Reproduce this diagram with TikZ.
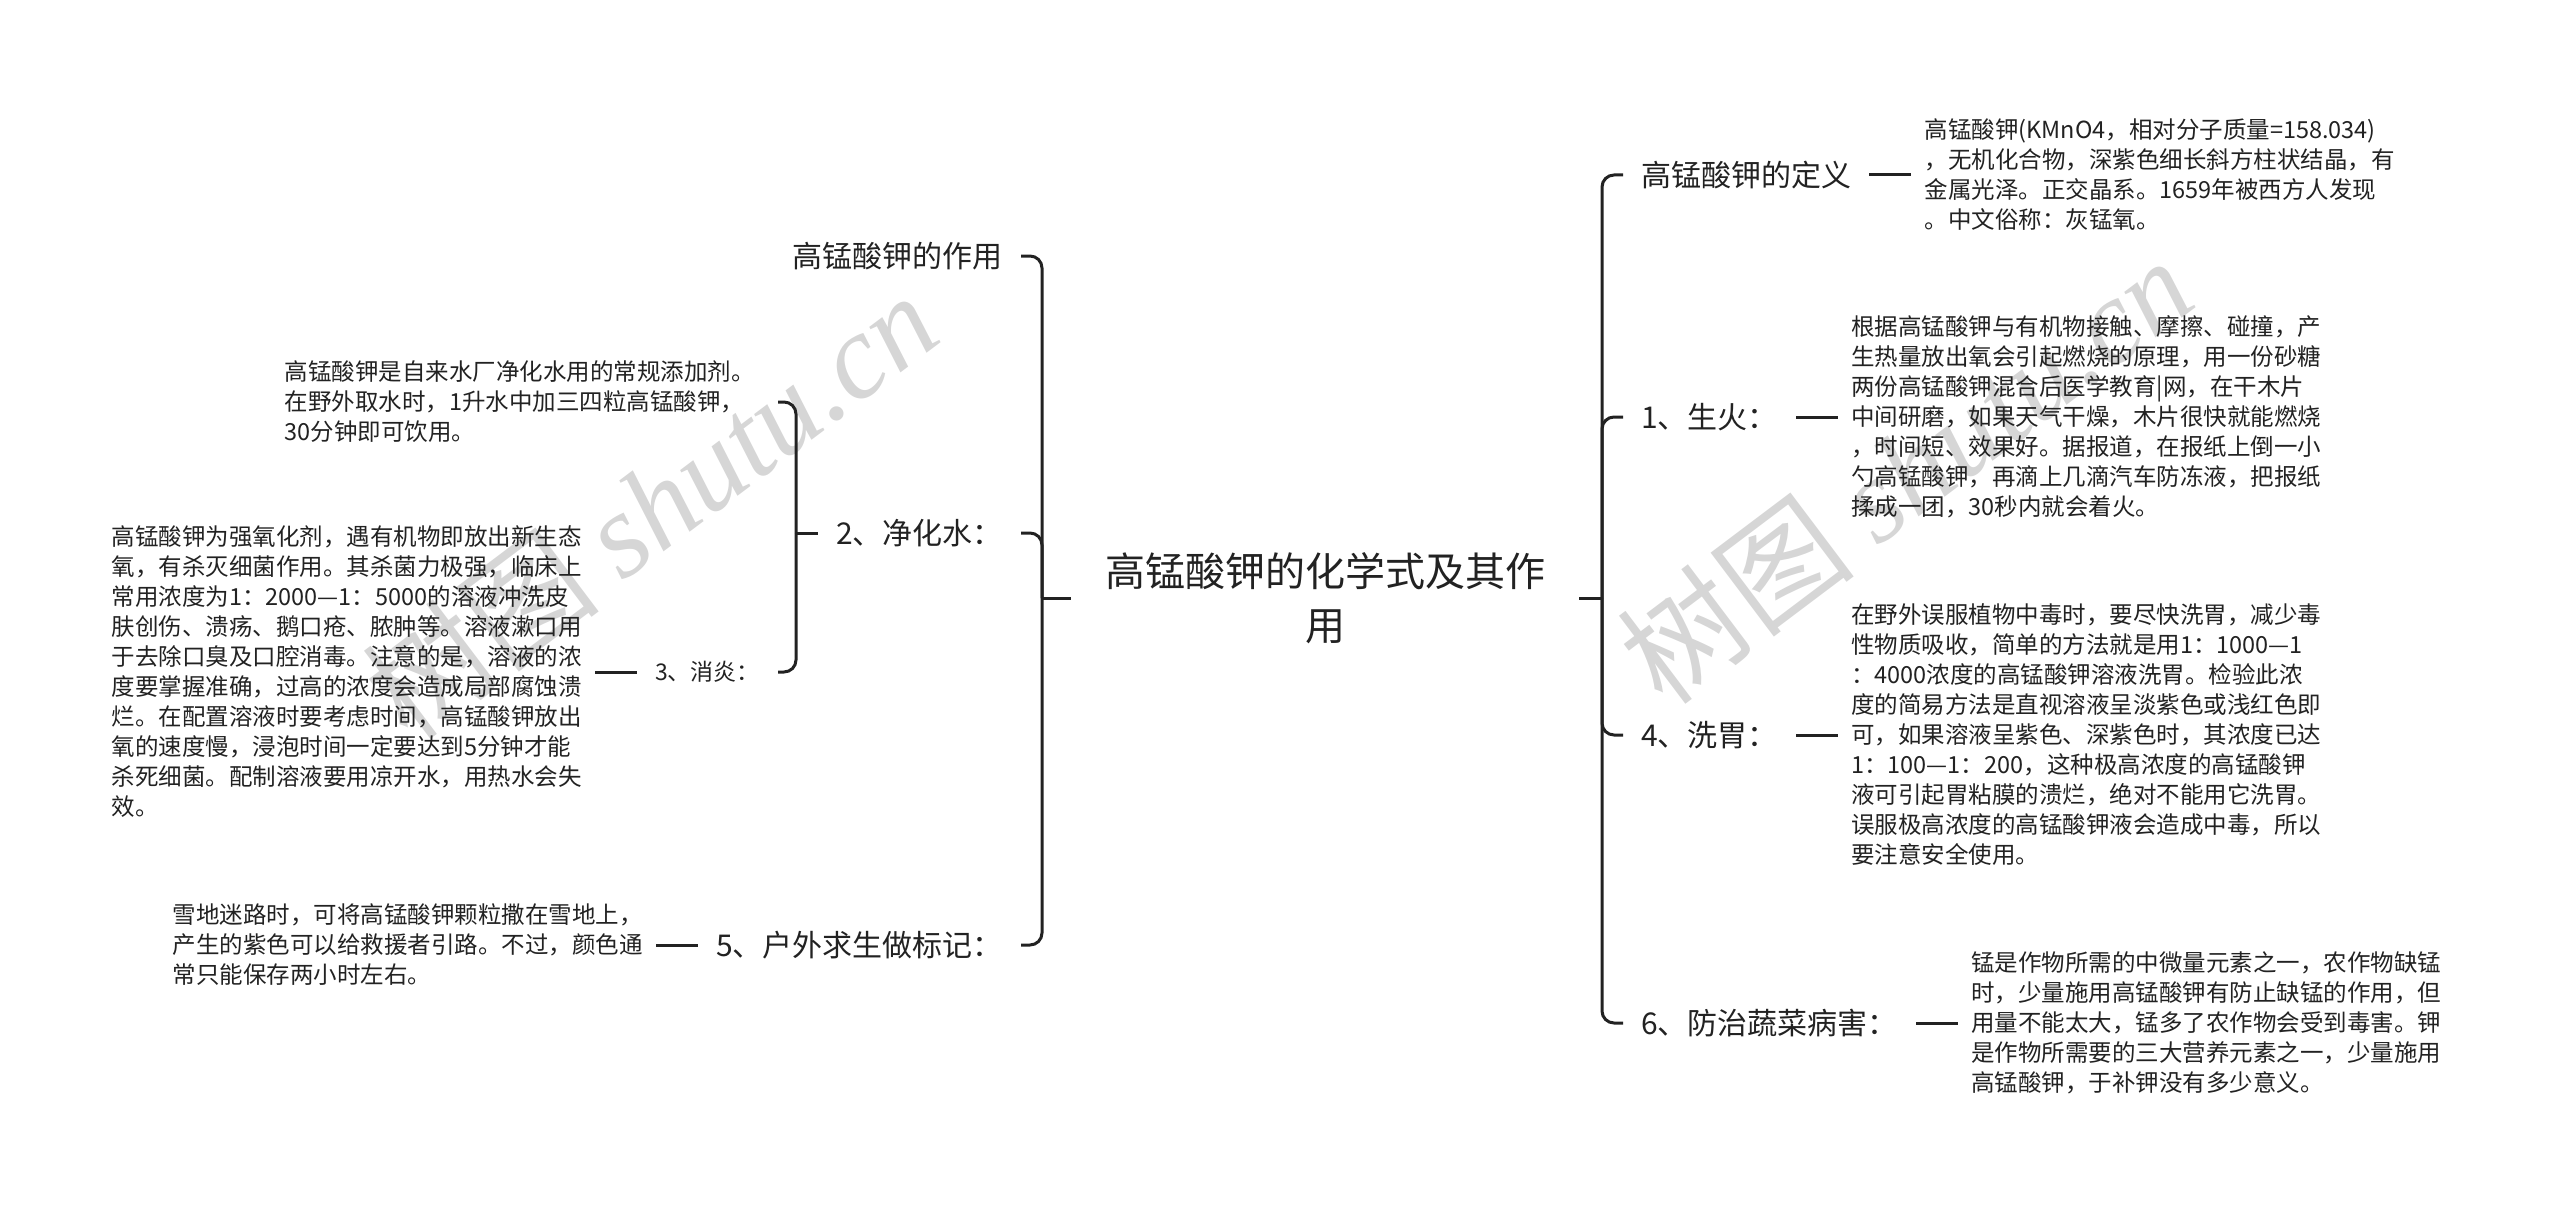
\documentclass[tikz,border=0pt]{standalone}
\usepackage{fontspec}
\setmainfont{Noto Sans CJK SC}
\newfontfamily\markfont{Liberation Serif}
\usetikzlibrary{positioning}
\definecolor{inkc}{HTML}{222222}
\definecolor{linec}{HTML}{222222}
\definecolor{markc}{HTML}{D6D6D6}
\tikzset{
  km link/.style={draw=linec, line width=3pt, rounded corners=12pt},
  km root/.style={align=center, text=inkc, inner xsep=34pt, inner ysep=4pt,
    font=\fontsize{40}{54}\selectfont},
  km main/.style={text=inkc, inner xsep=18pt, inner ysep=3pt,
    font=\fontsize{30}{36}\selectfont},
  km sub/.style={text=inkc, inner xsep=18pt, inner ysep=3pt,
    font=\fontsize{23}{28}\selectfont},
  km leaf/.style={text=inkc, align=left, inner xsep=13pt, inner ysep=3pt,
    font=\fontsize{23.5}{30}\selectfont},
  km mark/.style={text=markc, rotate=37, inner sep=0pt,
    font=\fontsize{120}{120}\selectfont},
}

\begin{document}
\begin{tikzpicture}[x=1pt, y=1pt, node distance=42pt]
 \useasboundingbox (0,0) rectangle (2560,-1212);
 % watermarks under everything
 \node[km mark] (wmleft) at (650,-505) {树图 {\markfont\itshape shutu.cn}};
 \node[km mark] (wmright) at (1905,-470) {树图 {\markfont\itshape shutu.cn}};

 \node[km root] (root) at (1325,-598) {高锰酸钾的化学式及其作\\用};
 \coordinate (lt) at (1042,-598);
 \coordinate (rt) at (1602,-598);

 % left side
 \node[km main, anchor=east] (use) at (1021,-256) {高锰酸钾的作用};
 \node[km main, anchor=east] (purify) at (1021,-533) {2、净化水：};
 \node[km main, anchor=east] (sos) at (1021,-945) {5、户外求生做标记：};
 \coordinate (pt) at (796,-533);
 \node[km leaf, anchor=east, inner xsep=23pt] (purifyA) at (778,-402)
   {高锰酸钾是自来水厂净化水用的常规添加剂。\\
    在野外取水时，1升水中加三四粒高锰酸钾，\\
    30分钟即可饮用。};
 \node[km sub, anchor=east] (heal) at (778,-672) {3、消炎：};
 \node[km leaf, left=of heal] (healA)
   {高锰酸钾为强氧化剂，遇有机物即放出新生态\\
    氧，有杀灭细菌作用。其杀菌力极强，临床上\\
    常用浓度为1：2000—1：5000的溶液冲洗皮\\
    肤创伤、溃疡、鹅口疮、脓肿等。溶液漱口用\\
    于去除口臭及口腔消毒。注意的是，溶液的浓\\
    度要掌握准确，过高的浓度会造成局部腐蚀溃\\
    烂。在配置溶液时要考虑时间，高锰酸钾放出\\
    氧的速度慢，浸泡时间一定要达到5分钟才能\\
    杀死细菌。配制溶液要用凉开水，用热水会失\\
    效。};
 \node[km leaf, left=of sos] (sosA)
   {雪地迷路时，可将高锰酸钾颗粒撒在雪地上，\\
    产生的紫色可以给救援者引路。不过，颜色通\\
    常只能保存两小时左右。};

 % right side
 \node[km main, anchor=west] (def) at (1623,-175) {高锰酸钾的定义};
 \node[km main, anchor=west] (fire) at (1623,-417) {1、生火：};
 \node[km main, anchor=west] (wash) at (1623,-735) {4、洗胃：};
 \node[km main, anchor=west] (crop) at (1623,-1023) {6、防治蔬菜病害：};
 \node[km leaf, right=of def] (defA)
   {高锰酸钾(KMnO4，相对分子质量=158.034)\\
    ，无机化合物，深紫色细长斜方柱状结晶，有\\
    金属光泽。正交晶系。1659年被西方人发现\\
    。中文俗称：灰锰氧。};
 \node[km leaf, right=of fire] (fireA)
   {根据高锰酸钾与有机物接触、摩擦、碰撞，产\\
    生热量放出氧会引起燃烧的原理，用一份砂糖\\
    两份高锰酸钾混合后医学教育|网，在干木片\\
    中间研磨，如果天气干燥，木片很快就能燃烧\\
    ，时间短、效果好。据报道，在报纸上倒一小\\
    勺高锰酸钾，再滴上几滴汽车防冻液，把报纸\\
    揉成一团，30秒内就会着火。};
 \node[km leaf, right=of wash] (washA)
   {在野外误服植物中毒时，要尽快洗胃，减少毒\\
    性物质吸收，简单的方法就是用1：1000—1\\
    ：4000浓度的高锰酸钾溶液洗胃。检验此浓\\
    度的简易方法是直视溶液呈淡紫色或浅红色即\\
    可，如果溶液呈紫色、深紫色时，其浓度已达\\
    1：100—1：200，这种极高浓度的高锰酸钾\\
    液可引起胃粘膜的溃烂，绝对不能用它洗胃。\\
    误服极高浓度的高锰酸钾液会造成中毒，所以\\
    要注意安全使用。};
 \node[km leaf, right=of crop] (cropA)
   {锰是作物所需的中微量元素之一，农作物缺锰\\
    时，少量施用高锰酸钾有防止缺锰的作用，但\\
    用量不能太大，锰多了农作物会受到毒害。钾\\
    是作物所需要的三大营养元素之一，少量施用\\
    高锰酸钾，于补钾没有多少意义。};

 \draw[km link] (root.west) -- (lt);
 \draw[km link] (root.east) -- (rt);
 \foreach \n in {use,purify,sos}
   \draw[km link] (lt) |- (\n.east);
 \foreach \n in {def,fire,wash,crop}
   \draw[km link] (rt) |- (\n.west);
 \draw[km link] (purify.west) -- (pt);
 \foreach \n in {purifyA,heal}
   \draw[km link] (pt) |- (\n.east);
 \draw[km link] (heal.west) -- (healA.east);
 \draw[km link] (sos.west) -- (sosA.east);
 \draw[km link] (def.east) -- (defA.west);
 \draw[km link] (fire.east) -- (fireA.west);
 \draw[km link] (wash.east) -- (washA.west);
 \draw[km link] (crop.east) -- (cropA.west);
\end{tikzpicture}
\end{document}
